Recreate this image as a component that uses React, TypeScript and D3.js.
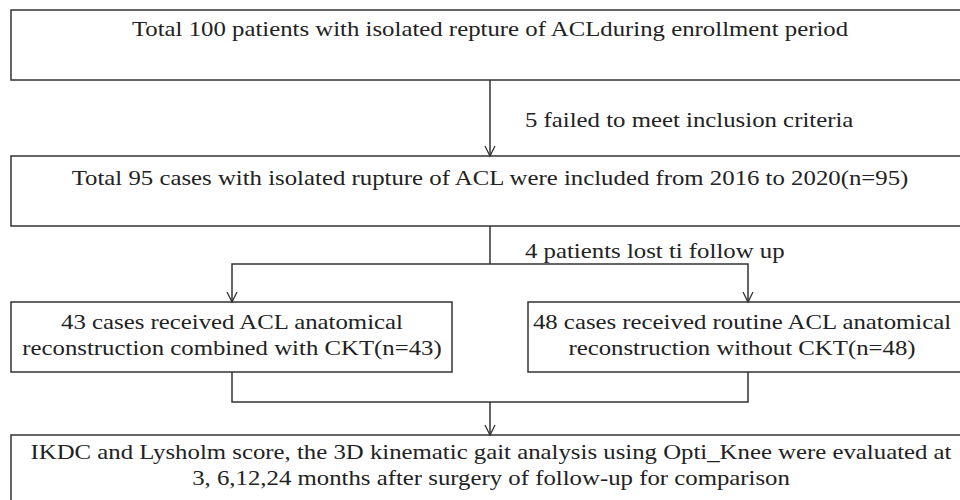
import React from "react";
import * as d3 from "d3";

const boxTexts: string[][] = [
  ["Total 100 patients with isolated repture of ACLduring enrollment period"],
  ["Total 95 cases with isolated rupture of ACL were included from 2016 to 2020(n=95)"],
  ["43 cases received ACL anatomical", "reconstruction combined with CKT(n=43)"],
  ["48 cases received routine ACL anatomical", "reconstruction without CKT(n=48)"],
  [
    "IKDC and Lysholm score, the 3D kinematic gait analysis using Opti_Knee were evaluated at",
    "3, 6,12,24 months after surgery of follow-up for comparison",
  ],
];
const sideLabels: string[] = ["5 failed to meet inclusion criteria", "4 patients lost ti follow up"];

// layout
const W = 960, H = 500;
const boxes = [
  { x0: 11, x1: 964, y0: 10, y1: 80, cx: 490, ty: [36] },
  { x0: 11, x1: 964, y0: 156, y1: 226, cx: 490, ty: [185] },
  { x0: 11, x1: 452, y0: 302, y1: 372, cx: 232, ty: [329, 355] },
  { x0: 528, x1: 968, y0: 302, y1: 372, cx: 742, ty: [329, 355] },
  { x0: 11, x1: 964, y0: 435, y1: 510, cx: 491, ty: [459, 485] },
];
const STROKE = "#333";
const TEXT = "#222";
const FONT = "Liberation Serif";
const FS = 20;
const SX = 1.24;

function Arrow({ x: ax, y }: { x: number; y: number }) {
  const p = d3.path();
  p.moveTo(ax - 5, y - 10);
  p.lineTo(ax, y);
  p.lineTo(ax + 5, y - 10);
  return <path d={p.toString()} fill="none" stroke={STROKE} strokeWidth={1.3} />;
}

function Label({ x, y, anchor, children }: { x: number; y: number; anchor: string; children: string }) {
  return (
    <g transform={`translate(${x},${y}) scale(${SX},1)`}>
      <text x={0} y={0} textAnchor={anchor} style={{ fontFamily: FONT, fontSize: `${FS}px` }} fill={TEXT}>
        {children}
      </text>
    </g>
  );
}

export default function App() {
  const line = d3.line();
  const cx = 490;
  const lx = 232, rx = 748;
  const paths: [number, number][][] = [
    [[cx, 80], [cx, 156]],
    [[cx, 226], [cx, 264]],
    [[lx, 302], [lx, 264], [rx, 264], [rx, 302]],
    [[lx, 372], [lx, 402], [rx, 402], [rx, 372]],
    [[cx, 402], [cx, 435]],
  ];
  return (
    <svg width={W} height={H} style={{ position: "absolute", left: 0, top: 0, background: "#fff" }}>
      <rect x={0} y={0} width={W} height={H} fill="#fff" />
      {boxes.map((b, i) => (
        <g key={i}>
          <rect x={b.x0} y={b.y0} width={b.x1 - b.x0} height={b.y1 - b.y0} fill="none" stroke={STROKE} strokeWidth={1.5} />
          {boxTexts[i].map((t, j) => (
            <Label key={j} x={b.cx} y={b.ty[j]} anchor="middle">{t}</Label>
          ))}
        </g>
      ))}
      {paths.map((p, i) => (
        <path key={i} d={line(p) || ""} fill="none" stroke={STROKE} strokeWidth={1.5} />
      ))}
      <Arrow x={cx} y={156} />
      <Arrow x={lx} y={302} />
      <Arrow x={rx} y={302} />
      <Arrow x={cx} y={435} />
      <Label x={525} y={127} anchor="start">{sideLabels[0]}</Label>
      <Label x={525} y={258} anchor="start">{sideLabels[1]}</Label>
    </svg>
  );
}
